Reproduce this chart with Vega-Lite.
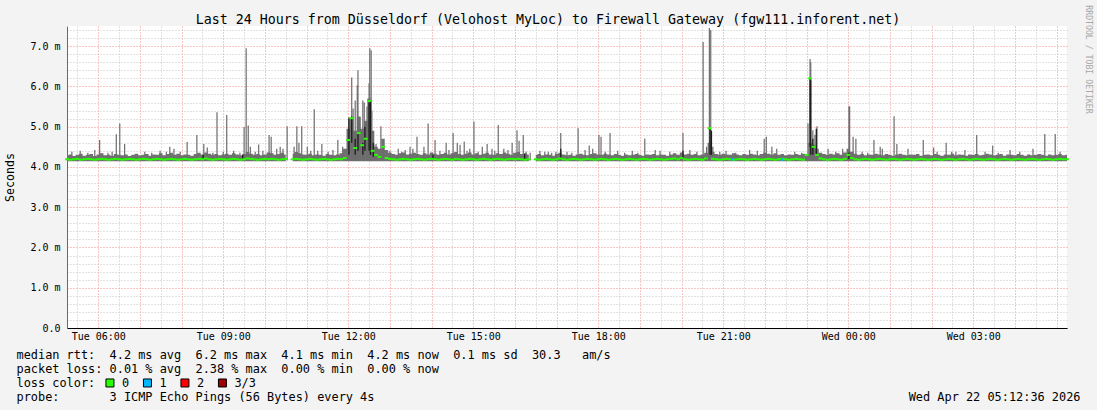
{
"$schema": "https://vega.github.io/schema/vega-lite/v6.json",
"width": 1000,
"height": 302,
"autosize": {"type": "none"},
"padding": {"left": 67, "top": 26, "right": 30, "bottom": 82},
"background": "#f3f3f3",
"config": {
  "view": {"fill": "#ffffff", "stroke": null},
  "font": "DejaVu Sans Mono",
  "axis": {"labelFont": "DejaVu Sans Mono", "titleFont": "DejaVu Sans Mono"},
  "legend": {"labelFont": "DejaVu Sans Mono", "titleFont": "DejaVu Sans Mono"}
},
"title": {"text": "Last 24 Hours from Düsseldorf (Velohost MyLoc) to Firewall Gateway (fgw111.inforent.net)", "font": "DejaVu Sans Mono", "fontSize": 13.3, "fontWeight": "normal", "color": "#000000", "anchor": "middle", "frame": "group", "dx": -19, "baseline": "alphabetic", "offset": -33},
"datasets": {
"base": [
{"m":315,"hi":4.29,"md":4.19},{"m":320,"hi":4.31,"md":4.18},{"m":325,"hi":4.27,"md":4.19},{"m":330,"hi":4.3,"md":4.2},{"m":335,"hi":4.33,"md":4.18},{"m":340,"hi":4.28,"md":4.19},{"m":345,"hi":4.3,"md":4.2},{"m":350,"hi":4.32,"md":4.19},{"m":355,"hi":4.27,"md":4.18},{"m":360,"hi":4.31,"md":4.19},
{"m":365,"hi":4.34,"md":4.2},{"m":370,"hi":4.29,"md":4.19},{"m":375,"hi":4.3,"md":4.18},{"m":380,"hi":4.28,"md":4.19},{"m":385,"hi":4.32,"md":4.2},{"m":390,"hi":4.3,"md":4.19},{"m":395,"hi":4.29,"md":4.18},{"m":400,"hi":4.31,"md":4.19},{"m":405,"hi":4.27,"md":4.2},{"m":410,"hi":4.3,"md":4.19},
{"m":415,"hi":4.33,"md":4.18},{"m":420,"hi":4.29,"md":4.19},{"m":425,"hi":4.3,"md":4.2},{"m":430,"hi":4.32,"md":4.19},{"m":435,"hi":4.28,"md":4.18},{"m":440,"hi":4.31,"md":4.19},{"m":445,"hi":4.3,"md":4.2},{"m":450,"hi":4.34,"md":4.19},{"m":455,"hi":4.29,"md":4.18},{"m":460,"hi":4.32,"md":4.19},
{"m":465,"hi":4.35,"md":4.2},{"m":470,"hi":4.3,"md":4.19},{"m":475,"hi":4.33,"md":4.18},{"m":480,"hi":4.29,"md":4.19},{"m":485,"hi":4.31,"md":4.2},{"m":490,"hi":4.3,"md":4.19},{"m":495,"hi":4.28,"md":4.18},{"m":500,"hi":4.32,"md":4.19},{"m":505,"hi":4.35,"md":4.2},{"m":510,"hi":4.31,"md":4.19},
{"m":515,"hi":4.36,"md":4.21},{"m":520,"hi":4.33,"md":4.19},{"m":525,"hi":4.3,"md":4.18},{"m":530,"hi":4.32,"md":4.19},{"m":535,"hi":4.29,"md":4.2},{"m":540,"hi":4.31,"md":4.19},{"m":545,"hi":4.33,"md":4.18},{"m":550,"hi":4.3,"md":4.19},{"m":555,"hi":4.34,"md":4.2},{"m":560,"hi":4.31,"md":4.19},
{"m":565,"hi":4.29,"md":4.18},{"m":570,"hi":4.32,"md":4.19},{"m":575,"hi":4.37,"md":4.21},{"m":580,"hi":4.33,"md":4.2},{"m":585,"hi":4.3,"md":4.19},{"m":590,"hi":4.32,"md":4.18},{"m":595,"hi":4.29,"md":4.19},{"m":600,"hi":4.31,"md":4.2},{"m":605,"hi":4.36,"md":4.19},{"m":610,"hi":4.34,"md":4.2},
{"m":615,"hi":4.3,"md":4.19},{"m":620,"hi":4.32,"md":4.18},{"m":625,"hi":4.35,"md":4.19},{"m":630,"hi":4.31,"md":4.2},{"m":635,"hi":null,"md":null},{"m":640,"hi":4.33,"md":4.19},{"m":645,"hi":4.37,"md":4.2},{"m":650,"hi":4.34,"md":4.19},{"m":655,"hi":4.31,"md":4.18},{"m":660,"hi":4.3,"md":4.19},
{"m":665,"hi":4.33,"md":4.2},{"m":670,"hi":4.29,"md":4.19},{"m":675,"hi":4.31,"md":4.18},{"m":680,"hi":4.3,"md":4.19},{"m":685,"hi":4.28,"md":4.2},{"m":690,"hi":4.32,"md":4.19},{"m":695,"hi":4.3,"md":4.18},{"m":700,"hi":4.29,"md":4.19},{"m":705,"hi":4.31,"md":4.2},{"m":710,"hi":4.34,"md":4.19},
{"m":715,"hi":4.45,"md":4.22},{"m":720,"hi":4.95,"md":4.67},{"m":725,"hi":5.2,"md":5.21},{"m":730,"hi":4.9,"md":4.47},{"m":735,"hi":5.25,"md":4.84},{"m":740,"hi":4.95,"md":4.54},{"m":745,"hi":5.15,"md":4.7},{"m":750,"hi":5.7,"md":5.64},{"m":755,"hi":4.9,"md":4.4},{"m":760,"hi":4.5,"md":4.3},
{"m":765,"hi":4.45,"md":4.25},{"m":770,"hi":4.7,"md":4.5},{"m":775,"hi":4.42,"md":4.22},{"m":780,"hi":4.35,"md":4.2},{"m":785,"hi":4.32,"md":4.19},{"m":790,"hi":4.3,"md":4.18},{"m":795,"hi":4.34,"md":4.19},{"m":800,"hi":4.36,"md":4.2},{"m":805,"hi":4.31,"md":4.19},{"m":810,"hi":4.33,"md":4.18},
{"m":815,"hi":4.35,"md":4.19},{"m":820,"hi":4.32,"md":4.2},{"m":825,"hi":4.3,"md":4.19},{"m":830,"hi":4.34,"md":4.18},{"m":835,"hi":4.31,"md":4.19},{"m":840,"hi":4.36,"md":4.2},{"m":845,"hi":4.33,"md":4.19},{"m":850,"hi":4.3,"md":4.18},{"m":855,"hi":4.32,"md":4.19},{"m":860,"hi":4.35,"md":4.2},
{"m":865,"hi":4.31,"md":4.19},{"m":870,"hi":4.34,"md":4.18},{"m":875,"hi":4.37,"md":4.2},{"m":880,"hi":4.32,"md":4.19},{"m":885,"hi":4.3,"md":4.18},{"m":890,"hi":4.33,"md":4.19},{"m":895,"hi":4.36,"md":4.2},{"m":900,"hi":4.31,"md":4.19},{"m":905,"hi":4.34,"md":4.18},{"m":910,"hi":4.3,"md":4.19},
{"m":915,"hi":4.33,"md":4.2},{"m":920,"hi":4.35,"md":4.19},{"m":925,"hi":4.31,"md":4.18},{"m":930,"hi":4.3,"md":4.19},{"m":935,"hi":4.34,"md":4.2},{"m":940,"hi":4.32,"md":4.19},{"m":945,"hi":4.36,"md":4.18},{"m":950,"hi":4.33,"md":4.19},{"m":955,"hi":4.3,"md":4.2},{"m":960,"hi":4.35,"md":4.19},
{"m":965,"hi":4.37,"md":4.2},{"m":970,"hi":4.32,"md":4.19},{"m":975,"hi":4.34,"md":4.18},{"m":980,"hi":4.31,"md":4.19},{"m":985,"hi":null,"md":null},{"m":990,"hi":4.3,"md":4.19},{"m":995,"hi":4.32,"md":4.18},{"m":1000,"hi":4.29,"md":4.19},{"m":1005,"hi":4.31,"md":4.2},{"m":1010,"hi":4.3,"md":4.19},
{"m":1015,"hi":4.28,"md":4.18},{"m":1020,"hi":4.32,"md":4.19},{"m":1025,"hi":4.35,"md":4.21},{"m":1030,"hi":4.31,"md":4.19},{"m":1035,"hi":4.29,"md":4.18},{"m":1040,"hi":4.3,"md":4.19},{"m":1045,"hi":4.28,"md":4.2},{"m":1050,"hi":4.31,"md":4.19},{"m":1055,"hi":4.33,"md":4.18},{"m":1060,"hi":4.3,"md":4.19},
{"m":1065,"hi":4.29,"md":4.2},{"m":1070,"hi":4.32,"md":4.19},{"m":1075,"hi":4.34,"md":4.18},{"m":1080,"hi":4.31,"md":4.19},{"m":1085,"hi":4.3,"md":4.2},{"m":1090,"hi":4.33,"md":4.19},{"m":1095,"hi":4.31,"md":4.18},{"m":1100,"hi":4.29,"md":4.19},{"m":1105,"hi":4.32,"md":4.2},{"m":1110,"hi":4.3,"md":4.19},
{"m":1115,"hi":4.28,"md":4.18},{"m":1120,"hi":4.31,"md":4.19},{"m":1125,"hi":4.29,"md":4.2},{"m":1130,"hi":4.3,"md":4.19},{"m":1135,"hi":4.32,"md":4.18},{"m":1140,"hi":4.3,"md":4.19},{"m":1145,"hi":4.28,"md":4.2},{"m":1150,"hi":4.31,"md":4.19},{"m":1155,"hi":4.3,"md":4.18},{"m":1160,"hi":4.32,"md":4.19},
{"m":1165,"hi":4.29,"md":4.2},{"m":1170,"hi":4.31,"md":4.19},{"m":1175,"hi":4.3,"md":4.18},{"m":1180,"hi":4.28,"md":4.19},{"m":1185,"hi":4.31,"md":4.2},{"m":1190,"hi":4.34,"md":4.21},{"m":1195,"hi":4.3,"md":4.19},{"m":1200,"hi":4.36,"md":4.22},{"m":1205,"hi":4.31,"md":4.19},{"m":1210,"hi":4.33,"md":4.18},
{"m":1215,"hi":4.3,"md":4.19},{"m":1220,"hi":4.32,"md":4.2},{"m":1225,"hi":4.29,"md":4.19},{"m":1230,"hi":4.31,"md":4.18},{"m":1235,"hi":4.35,"md":4.21},{"m":1240,"hi":4.6,"md":4.96},{"m":1245,"hi":4.38,"md":4.2},{"m":1250,"hi":4.32,"md":4.19},{"m":1255,"hi":4.3,"md":4.18},{"m":1260,"hi":4.33,"md":4.19},
{"m":1265,"hi":4.31,"md":4.2},{"m":1270,"hi":4.3,"md":4.19},{"m":1275,"hi":4.34,"md":4.18},{"m":1280,"hi":4.31,"md":4.19},{"m":1285,"hi":4.29,"md":4.2},{"m":1290,"hi":4.32,"md":4.19},{"m":1295,"hi":4.3,"md":4.18},{"m":1300,"hi":4.33,"md":4.19},{"m":1305,"hi":4.31,"md":4.2},{"m":1310,"hi":4.29,"md":4.19},
{"m":1315,"hi":4.32,"md":4.18},{"m":1320,"hi":4.35,"md":4.19},{"m":1325,"hi":4.33,"md":4.2},{"m":1330,"hi":4.31,"md":4.19},{"m":1335,"hi":4.34,"md":4.18},{"m":1340,"hi":4.3,"md":4.19},{"m":1345,"hi":4.32,"md":4.2},{"m":1350,"hi":4.29,"md":4.19},{"m":1355,"hi":4.31,"md":4.18},{"m":1360,"hi":4.3,"md":4.19},
{"m":1365,"hi":4.32,"md":4.2},{"m":1370,"hi":4.3,"md":4.19},{"m":1375,"hi":4.33,"md":4.18},{"m":1380,"hi":4.31,"md":4.3},{"m":1385,"hi":4.6,"md":6.2},{"m":1390,"hi":4.55,"md":4.5},{"m":1395,"hi":4.45,"md":4.3},{"m":1400,"hi":4.35,"md":4.21},{"m":1405,"hi":4.32,"md":4.19},{"m":1410,"hi":4.3,"md":4.18},
{"m":1415,"hi":4.33,"md":4.19},{"m":1420,"hi":4.31,"md":4.2},{"m":1425,"hi":4.34,"md":4.19},{"m":1430,"hi":4.3,"md":4.18},{"m":1435,"hi":4.36,"md":4.2},{"m":1440,"hi":4.45,"md":4.3},{"m":1445,"hi":4.38,"md":4.22},{"m":1450,"hi":4.33,"md":4.19},{"m":1455,"hi":4.3,"md":4.18},{"m":1460,"hi":4.32,"md":4.19},
{"m":1465,"hi":4.29,"md":4.2},{"m":1470,"hi":4.31,"md":4.19},{"m":1475,"hi":4.3,"md":4.18},{"m":1480,"hi":4.33,"md":4.19},{"m":1485,"hi":4.31,"md":4.2},{"m":1490,"hi":4.29,"md":4.19},{"m":1495,"hi":4.32,"md":4.18},{"m":1500,"hi":4.3,"md":4.19},{"m":1505,"hi":4.28,"md":4.2},{"m":1510,"hi":4.31,"md":4.19},
{"m":1515,"hi":4.33,"md":4.18},{"m":1520,"hi":4.3,"md":4.19},{"m":1525,"hi":4.29,"md":4.2},{"m":1530,"hi":4.31,"md":4.19},{"m":1535,"hi":4.3,"md":4.18},{"m":1540,"hi":4.32,"md":4.19},{"m":1545,"hi":4.28,"md":4.2},{"m":1550,"hi":4.3,"md":4.19},{"m":1555,"hi":4.31,"md":4.18},{"m":1560,"hi":4.29,"md":4.19},
{"m":1565,"hi":4.32,"md":4.2},{"m":1570,"hi":4.3,"md":4.19},{"m":1575,"hi":4.28,"md":4.18},{"m":1580,"hi":4.31,"md":4.19},{"m":1585,"hi":4.3,"md":4.2},{"m":1590,"hi":4.33,"md":4.19},{"m":1595,"hi":4.29,"md":4.18},{"m":1600,"hi":4.31,"md":4.19},{"m":1605,"hi":4.3,"md":4.2},{"m":1610,"hi":4.28,"md":4.19},
{"m":1615,"hi":4.31,"md":4.18},{"m":1620,"hi":4.3,"md":4.19},{"m":1625,"hi":4.32,"md":4.2},{"m":1630,"hi":4.29,"md":4.19},{"m":1635,"hi":4.3,"md":4.18},{"m":1640,"hi":4.33,"md":4.19},{"m":1645,"hi":4.31,"md":4.2},{"m":1650,"hi":4.29,"md":4.19},{"m":1655,"hi":4.3,"md":4.18},{"m":1660,"hi":4.32,"md":4.19},
{"m":1665,"hi":4.28,"md":4.2},{"m":1670,"hi":4.31,"md":4.19},{"m":1675,"hi":4.3,"md":4.18},{"m":1680,"hi":4.29,"md":4.19},{"m":1685,"hi":4.32,"md":4.2},{"m":1690,"hi":4.3,"md":4.19},{"m":1695,"hi":4.28,"md":4.18},{"m":1700,"hi":4.31,"md":4.19},{"m":1705,"hi":4.29,"md":4.2},{"m":1710,"hi":4.3,"md":4.19},
{"m":1715,"hi":4.32,"md":4.18},{"m":1720,"hi":4.3,"md":4.19},{"m":1725,"hi":4.28,"md":4.2},{"m":1730,"hi":4.31,"md":4.19},{"m":1735,"hi":4.29,"md":4.18},{"m":1740,"hi":4.3,"md":4.19},{"m":1745,"hi":4.32,"md":4.2},{"m":1750,"hi":4.29,"md":4.19},{"m":1755,"hi":4.3,"md":4.19}
],
"spikes": [
{"m":322,"hi":4.38},{"m":334,"hi":4.4},{"m":345,"hi":4.35},{"m":355,"hi":4.42},{"m":362,"hi":4.67},{"m":374,"hi":4.35},{"m":380,"hi":4.38},{"m":386,"hi":4.81},{"m":391,"hi":5.08},{"m":398,"hi":4.57},
{"m":427,"hi":4.38},{"m":437,"hi":4.35},{"m":449,"hi":4.4},{"m":458,"hi":4.38},{"m":463,"hi":4.5},{"m":469,"hi":4.45},{"m":478,"hi":4.38},{"m":488,"hi":4.62},{"m":502,"hi":4.79},{"m":512,"hi":4.57},
{"m":517,"hi":4.48},{"m":525,"hi":4.35},{"m":531,"hi":5.36},{"m":540,"hi":4.38},{"m":545,"hi":5.29},{"m":555,"hi":4.4},{"m":564,"hi":4.35},{"m":570,"hi":4.99},{"m":573,"hi":6.95},{"m":576,"hi":5.03},
{"m":579,"hi":4.5},{"m":586,"hi":4.38},{"m":591,"hi":4.56},{"m":597,"hi":4.4},{"m":606,"hi":4.79},{"m":609,"hi":4.75},{"m":617,"hi":4.45},{"m":622,"hi":4.5},{"m":626,"hi":4.45},{"m":632,"hi":5.01},
{"m":642,"hi":4.5},{"m":646,"hi":5.01},{"m":649,"hi":4.6},{"m":653,"hi":5.01},{"m":661,"hi":4.5},{"m":666,"hi":4.4},{"m":671,"hi":5.43},{"m":676,"hi":4.4},{"m":682,"hi":4.57},{"m":691,"hi":4.38},
{"m":698,"hi":4.42},{"m":705,"hi":4.67},{"m":712,"hi":4.5},{"m":721,"hi":5.24},{"m":725,"hi":6.22},{"m":727,"hi":5.45},{"m":730,"hi":5.65},{"m":733,"hi":6.03},{"m":734,"hi":6.4},{"m":737,"hi":5.24},
{"m":741,"hi":5.65},{"m":743,"hi":5.6},{"m":747,"hi":5.5},{"m":750,"hi":6.08},{"m":751,"hi":6.95},{"m":753,"hi":6.9},{"m":754,"hi":5.4},{"m":757,"hi":4.55},{"m":760,"hi":4.57},{"m":767,"hi":5.01},
{"m":771,"hi":4.5},{"m":780,"hi":4.4},{"m":792,"hi":4.45},{"m":797,"hi":4.38},{"m":802,"hi":4.42},{"m":809,"hi":4.5},{"m":813,"hi":4.45},{"m":819,"hi":4.75},{"m":829,"hi":4.5},{"m":835,"hi":5.08},
{"m":845,"hi":4.67},{"m":852,"hi":4.4},{"m":861,"hi":4.6},{"m":865,"hi":4.42},{"m":871,"hi":4.84},{"m":877,"hi":4.6},{"m":881,"hi":4.55},{"m":887,"hi":4.63},{"m":891,"hi":4.4},{"m":895,"hi":4.45},
{"m":901,"hi":5.13},{"m":907,"hi":4.38},{"m":913,"hi":4.5},{"m":920,"hi":4.57},{"m":927,"hi":4.45},{"m":931,"hi":4.4},{"m":936,"hi":5.04},{"m":944,"hi":4.45},{"m":950,"hi":4.42},{"m":956,"hi":4.6},
{"m":963,"hi":4.91},{"m":966,"hi":4.65},{"m":972,"hi":4.79},{"m":976,"hi":4.38},{"m":982,"hi":4.35},{"m":996,"hi":4.4},{"m":1003,"hi":4.38},{"m":1008,"hi":4.38},{"m":1013,"hi":4.35},{"m":1019,"hi":4.38},
{"m":1026,"hi":4.84},{"m":1035,"hi":4.38},{"m":1042,"hi":4.35},{"m":1051,"hi":4.96},{"m":1061,"hi":4.42},{"m":1067,"hi":4.53},{"m":1072,"hi":4.45},{"m":1081,"hi":4.79},{"m":1084,"hi":4.75},{"m":1090,"hi":4.38},
{"m":1097,"hi":4.84},{"m":1108,"hi":4.4},{"m":1118,"hi":4.35},{"m":1129,"hi":4.4},{"m":1137,"hi":4.35},{"m":1147,"hi":4.7},{"m":1162,"hi":4.42},{"m":1169,"hi":4.4},{"m":1183,"hi":4.38},{"m":1202,"hi":4.84},
{"m":1212,"hi":4.42},{"m":1222,"hi":4.38},{"m":1231,"hi":7.1},{"m":1236,"hi":4.5},{"m":1240,"hi":7.45},{"m":1242,"hi":7.4},{"m":1245,"hi":4.5},{"m":1255,"hi":4.38},{"m":1264,"hi":4.4},{"m":1278,"hi":4.35},
{"m":1298,"hi":4.42},{"m":1309,"hi":4.4},{"m":1319,"hi":4.7},{"m":1322,"hi":4.75},{"m":1330,"hi":4.5},{"m":1337,"hi":4.45},{"m":1363,"hi":4.38},{"m":1373,"hi":4.35},{"m":1382,"hi":5.08},{"m":1385,"hi":6.68},
{"m":1386,"hi":6.6},{"m":1389,"hi":4.91},{"m":1392,"hi":4.8},{"m":1395,"hi":5.01},{"m":1411,"hi":4.45},{"m":1422,"hi":4.38},{"m":1432,"hi":4.45},{"m":1441,"hi":5.51},{"m":1442,"hi":5.5},{"m":1447,"hi":4.75},
{"m":1451,"hi":4.7},{"m":1460,"hi":4.38},{"m":1468,"hi":4.35},{"m":1477,"hi":4.67},{"m":1486,"hi":4.5},{"m":1489,"hi":4.45},{"m":1506,"hi":5.26},{"m":1510,"hi":4.57},{"m":1526,"hi":4.45},{"m":1548,"hi":4.67},
{"m":1563,"hi":4.48},{"m":1568,"hi":4.38},{"m":1581,"hi":4.6},{"m":1589,"hi":4.38},{"m":1595,"hi":4.38},{"m":1608,"hi":4.42},{"m":1625,"hi":4.79},{"m":1637,"hi":4.38},{"m":1648,"hi":4.53},{"m":1656,"hi":4.35},
{"m":1673,"hi":4.42},{"m":1687,"hi":4.38},{"m":1706,"hi":4.45},{"m":1723,"hi":4.82},{"m":1738,"hi":4.82},{"m":1745,"hi":4.38}
],
"dark": [
{"m":511,"lo":4.2,"hi":4.3},{"m":568,"lo":4.2,"hi":4.3},{"m":721,"lo":4.3,"hi":5.2},{"m":725,"lo":4.6,"hi":5.25},{"m":730,"lo":4.3,"hi":4.7},{"m":734,"lo":4.4,"hi":4.85},{"m":741,"lo":4.3,"hi":4.6},{"m":744,"lo":4.4,"hi":5.0},{"m":750,"lo":4.4,"hi":5.6},{"m":752,"lo":4.3,"hi":5.64},
{"m":756,"lo":4.25,"hi":4.6},{"m":842,"lo":4.2,"hi":4.3},{"m":974,"lo":4.2,"hi":4.32},{"m":1026,"lo":4.2,"hi":4.45},{"m":1202,"lo":4.22,"hi":4.4},{"m":1241,"lo":4.3,"hi":4.96},{"m":1243,"lo":4.3,"hi":4.9},{"m":1385,"lo":4.5,"hi":6.2},{"m":1386,"lo":4.3,"hi":6.15},{"m":1389,"lo":4.3,"hi":4.7},
{"m":1394,"lo":4.3,"hi":4.95},{"m":1441,"lo":4.2,"hi":4.35}
],
"loss": [
{"m":1273,"md":4.19,"loss":"1"},{"m":1345,"md":4.18,"loss":"1"}
]
},
"layer": [
{
  "data": {"name": "base"},
  "mark": {"type": "area", "interpolate": "step", "color": "#707070", "invalid": "break-paths-show-domains"},
  "encoding": {
    "x": {"field": "m", "type": "quantitative", "scale": {"domain": [315, 1755], "nice": false, "zero": false},
      "axis": {"orient": "bottom", "values": [330,390,450,510,570,630,690,750,810,870,930,990,1050,1110,1170,1230,1290,1350,1410,1470,1530,1590,1650,1710],
        "grid": true, "gridColor": "#c4c4c4", "gridDash": [1, 2], "gridOpacity": 1, "labels": false, "ticks": false, "domain": false,
        "title": ["median\u00a0rtt:\u00a0\u00a04.2\u00a0ms\u00a0avg\u00a0\u00a06.2\u00a0ms\u00a0max\u00a0\u00a04.1\u00a0ms\u00a0min\u00a0\u00a04.2\u00a0ms\u00a0now\u00a0\u00a00.1\u00a0ms\u00a0sd\u00a0\u00a030.3\u00a0\u00a0\u00a0am/s",
                  "packet\u00a0loss:\u00a00.01\u00a0%\u00a0avg\u00a0\u00a02.38\u00a0%\u00a0max\u00a0\u00a00.00\u00a0%\u00a0min\u00a0\u00a00.00\u00a0%\u00a0now",
                  "loss\u00a0color:",
                  "probe:\u00a0\u00a0\u00a0\u00a0\u00a0\u00a0\u00a03\u00a0ICMP\u00a0Echo\u00a0Pings\u00a0(56\u00a0Bytes)\u00a0every\u00a04s"],
        "titleX": -51, "titleY": 21.6, "titleAlign": "left", "titleAnchor": "start", "titleBaseline": "top", "titleAngle": 0,
        "titleFontSize": 11.9, "titleFontWeight": "normal", "titleColor": "#000000", "titleLineHeight": 14}},
    "y": {"field": "hi", "type": "quantitative", "scale": {"domain": [0, 7.5], "nice": false, "zero": true},
      "axis": {"orient": "right", "values": [0.2,0.4,0.6,0.8,1.2,1.4,1.6,1.8,2.2,2.4,2.6,2.8,3.2,3.4,3.6,3.8,4.2,4.4,4.6,4.8,5.2,5.4,5.6,5.8,6.2,6.4,6.6,6.8,7.2,7.4],
        "grid": true, "gridColor": "#c4c4c4", "gridDash": [1, 2], "gridOpacity": 1, "labels": false, "ticks": false, "domain": false,
        "title": "RRDTOOL / TOBI OETIKER", "titleX": 20, "titleY": 33, "titleAngle": 90, "titleAlign": "center", "titleBaseline": "middle",
        "titleFontSize": 8.2, "titleFontWeight": "normal", "titleColor": "#a8a8a8"}},
    "y2": {"datum": 4.14}
  }
},
{
  "data": {"name": "spikes"},
  "mark": {"type": "rule", "color": "#6c6c6c", "strokeWidth": 1.2},
  "encoding": {
    "x": {"field": "m", "type": "quantitative", "scale": {"domain": [315, 1755], "nice": false, "zero": false},
      "axis": {"orient": "bottom", "values": [360,420,480,540,600,660,720,780,840,900,960,1020,1080,1140,1200,1260,1320,1380,1440,1500,1560,1620,1680,1740],
        "grid": true, "gridColor": "#f08c8c", "gridDash": [1, 2], "gridOpacity": 1, "ticks": false, "tickSize": 0,
        "domain": true, "domainColor": "#000000", "domainWidth": 1,
        "labelExpr": "datum.value % 180 == 0 ? (datum.value < 1440 ? 'Tue ' : 'Wed ') + (floor(datum.value / 60) % 24 < 10 ? '0' : '') + (floor(datum.value / 60) % 24) + ':00' : ''",
        "labelFontSize": 10, "labelColor": "#000000", "labelPadding": 3, "labelOverlap": false, "labelFlush": false, "labelBound": false,
        "title": "Wed Apr 22 05:12:36 2026", "titleX": 1013, "titleY": 72, "titleAlign": "right", "titleAnchor": "end", "titleBaseline": "alphabetic",
        "titleFontSize": 11.9, "titleFontWeight": "normal", "titleColor": "#000000"}},
    "y": {"field": "hi", "type": "quantitative", "scale": {"domain": [0, 7.5], "nice": false, "zero": true},
      "axis": {"orient": "left", "values": [0,1,2,3,4,5,6,7], "grid": true, "gridColor": "#f08c8c", "gridDash": [1, 2], "gridOpacity": 1,
        "ticks": false, "tickSize": 0, "domain": true, "domainColor": "#6a6a6a", "domainWidth": 1,
        "labelExpr": "datum.value == 0 ? '0.0' : format(datum.value, '.1f') + ' m'",
        "labelFontSize": 10, "labelColor": "#000000", "labelPadding": 7, "labelOverlap": false,
        "title": "Seconds", "titleX": -57, "titleY": 151, "titleAngle": -90, "titleAlign": "center", "titleBaseline": "middle",
        "titleFontSize": 11.6, "titleFontWeight": "normal", "titleColor": "#000000"}},
    "y2": {"datum": 4.16}
  }
},
{
  "data": {"name": "dark"},
  "mark": {"type": "rule", "color": "#1c1c1c", "strokeWidth": 1.3},
  "encoding": {
    "x": {"field": "m", "type": "quantitative", "scale": {"domain": [315, 1755], "nice": false, "zero": false}, "axis": null},
    "y": {"field": "lo", "type": "quantitative", "scale": {"domain": [0, 7.5], "nice": false, "zero": true}, "axis": null},
    "y2": {"field": "hi"}
  }
},
{
  "data": {"name": "base"},
  "mark": {"type": "tick", "orient": "horizontal", "color": "#26ff00", "size": 3.8, "thickness": 2, "opacity": 1},
  "encoding": {
    "x": {"field": "m", "type": "quantitative", "scale": {"domain": [315, 1755], "nice": false, "zero": false}, "axis": null},
    "y": {"field": "md", "type": "quantitative", "scale": {"domain": [0, 7.5], "nice": false, "zero": true}, "axis": null}
  }
},
{
  "data": {"name": "loss"},
  "mark": {"type": "point", "shape": "square", "filled": true, "size": 6, "opacity": 1},
  "encoding": {
    "x": {"field": "m", "type": "quantitative", "scale": {"domain": [315, 1755], "nice": false, "zero": false}, "axis": null},
    "y": {"field": "md", "type": "quantitative", "scale": {"domain": [0, 7.5], "nice": false, "zero": true}, "axis": null},
    "color": {"field": "loss", "type": "nominal",
      "scale": {"domain": ["0", "1", "2", "3/3"], "range": ["#26ff00", "#00b8ff", "#ff0000", "#a00000"]},
      "legend": {"orient": "none", "legendX": 37, "legendY": 351, "direction": "horizontal", "columns": 4, "title": null,
        "labelFontSize": 11.9, "labelColor": "#000000", "labelOffset": 6,
        "symbolType": "square", "symbolSize": 64, "symbolStrokeColor": "#000000", "symbolStrokeWidth": 1, "symbolOpacity": 1,
        "columnPadding": 10.5, "rowPadding": 0, "padding": 0}}
  }
},
{
  "mark": {"type": "point", "shape": "triangle-up", "filled": true, "color": "#8b1a1a", "size": 26, "opacity": 1},
  "encoding": {
    "x": {"datum": 315, "type": "quantitative", "scale": {"domain": [315, 1755], "nice": false, "zero": false}, "axis": null},
    "y": {"datum": 7.56, "type": "quantitative", "scale": {"domain": [0, 7.5], "nice": false, "zero": true}, "axis": null}
  }
},
{
  "mark": {"type": "point", "shape": "triangle-right", "filled": true, "color": "#8b1a1a", "size": 26, "opacity": 1},
  "encoding": {
    "x": {"datum": 1760, "type": "quantitative", "scale": {"domain": [315, 1755], "nice": false, "zero": false}, "axis": null},
    "y": {"datum": 0, "type": "quantitative", "scale": {"domain": [0, 7.5], "nice": false, "zero": true}, "axis": null}
  }
}
],
"resolve": {"axis": {"x": "independent", "y": "independent"}}
}
